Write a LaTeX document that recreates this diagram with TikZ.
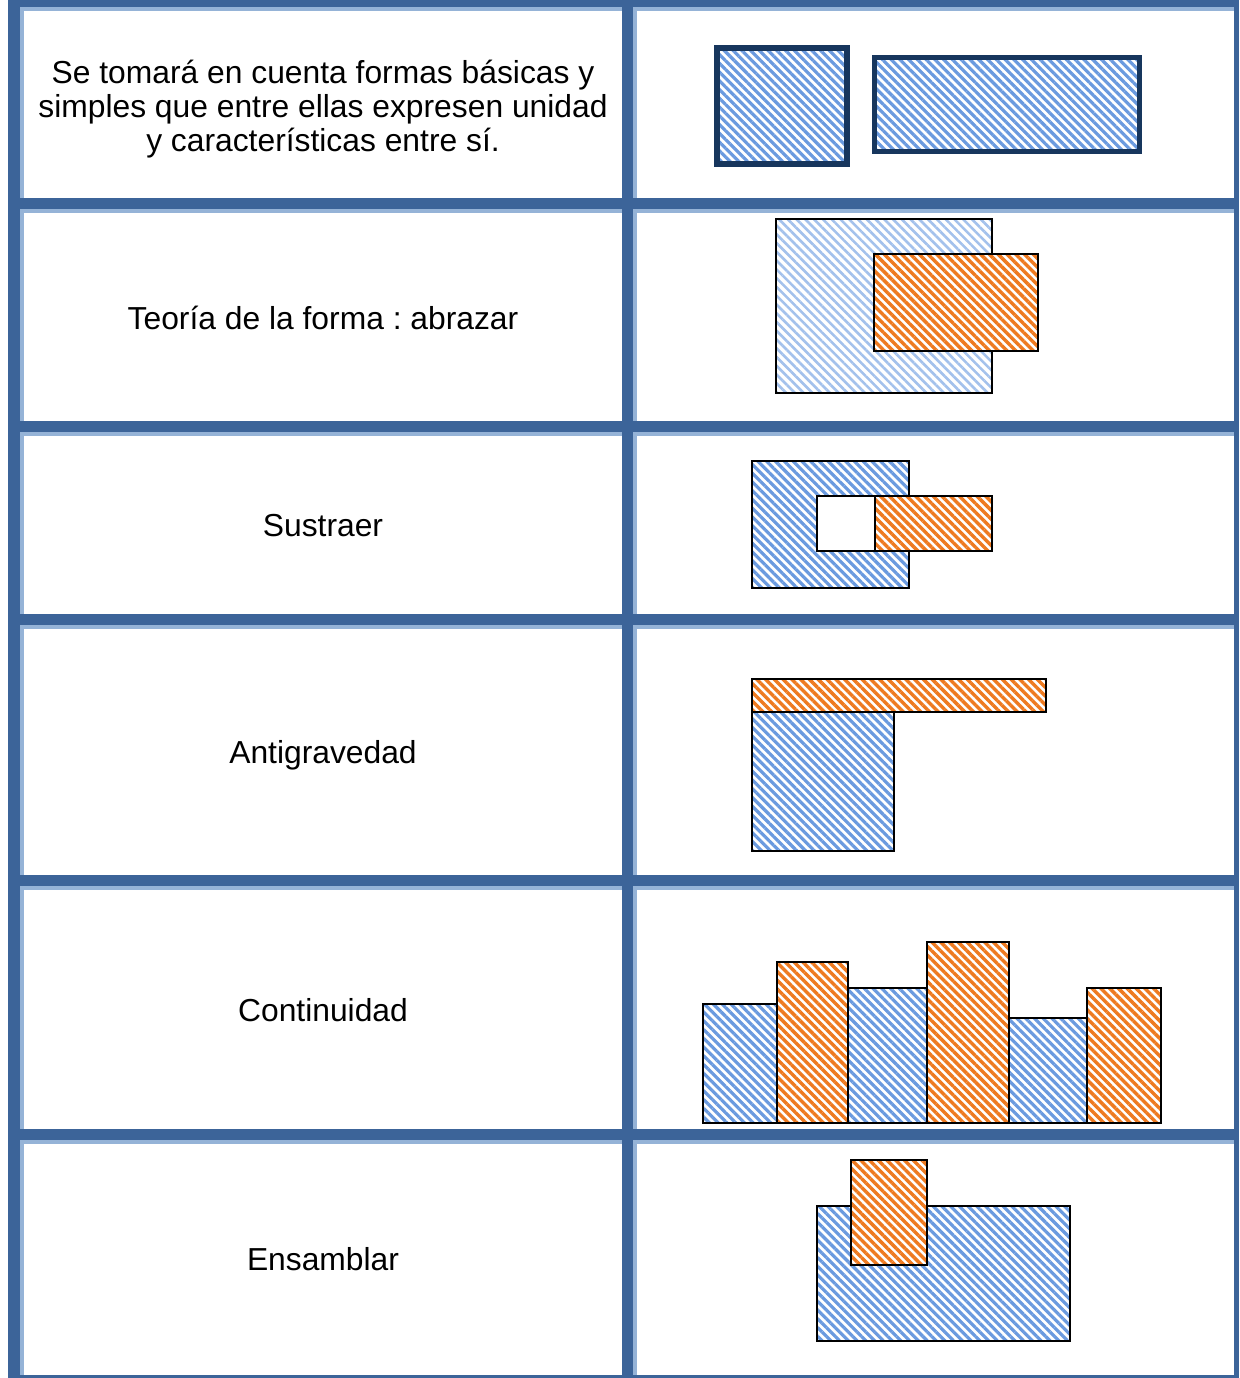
\documentclass[tikz,border=0pt]{standalone}
\usepackage{fontspec}
\setmainfont{Liberation Sans}
\usetikzlibrary{patterns.meta}
\definecolor{tdark}{HTML}{3C6499}
\definecolor{tlight}{HTML}{95B3D7}
\definecolor{navy}{HTML}{17365D}
\definecolor{hblue}{HTML}{6A9ADF}
\definecolor{hbluelight}{HTML}{A3C1EC}
\definecolor{horange}{HTML}{EE7A20}
\tikzset{
  lbl/.style={align=center, font=\frenchspacing\fontsize{31.8}{34}\selectfont, text=black, inner sep=0pt, anchor=base},
  bluehatch/.style={preaction={fill=white}, pattern={Lines[angle=-45,distance=6.2pt,line width=3.2pt]}, pattern color=hblue},
  palehatch/.style={preaction={fill=white}, pattern={Lines[angle=-45,distance=6.2pt,line width=2.6pt]}, pattern color=hbluelight},
  orangehatch/.style={preaction={fill=white}, pattern={Lines[angle=-45,distance=6.2pt,line width=3.4pt]}, pattern color=horange},
  thinbox/.style={draw=black, line width=2pt},
  heavybox/.style={draw=navy, line join=miter},
}
\begin{document}
\begin{tikzpicture}[x=1pt,y=-1pt]
\useasboundingbox (0,0) rectangle (1239,1378);
\fill[white] (0,0) rectangle (1239,1378);
% light inner strips
\fill[tlight] (20,7) rectangle (24,1375);
\fill[tlight] (633,7) rectangle (637,1375);
\foreach \ya in {7,209,432,625,886,1140}{
  \fill[tlight] (20,\ya) rectangle (1234,\ya+4);
}
% dark strips
\fill[tdark] (8,0) rectangle (1239,7);
\fill[tdark] (8,1375) rectangle (1239,1378);
\foreach \ya/\yb in {198/209,421/432,614/625,875/886,1129/1140}{
  \fill[tdark] (8,\ya) rectangle (1239,\yb);
}
\fill[tdark] (8,0) rectangle (20,1378);
\fill[tdark] (622,0) rectangle (633,1378);
\fill[tdark] (1234,0) rectangle (1239,1378);

% texts
\node[lbl] (t1) at (323,151.5) {Se tomará en cuenta formas básicas y\\simples que entre ellas expresen unidad\\y características entre sí.};
\node[lbl] (t2) at (323,329) {Teoría de la forma : abrazar};
\node[lbl] (t3) at (323,536) {Sustraer};
\node[lbl] (t4) at (323,763) {Antigravedad};
\node[lbl] (t5) at (323,1021) {Continuidad};
\node[lbl] (t6) at (323,1270) {Ensamblar};

% row 1
\path[bluehatch] (717,48) rectangle (847,164);
\draw[heavybox, line width=6pt] (717,48) rectangle (847,164);
\path[bluehatch] (874.5,57.5) rectangle (1139.5,151.5);
\draw[heavybox, line width=5pt] (874.5,57.5) rectangle (1139.5,151.5);

% row 2
\path[palehatch] (776,219) rectangle (992,393);
\draw[thinbox] (776,219) rectangle (992,393);
\path[orangehatch] (874,254) rectangle (1038,351);
\draw[thinbox] (874,254) rectangle (1038,351);

% row 3
\path[bluehatch] (752,461) rectangle (909,588);
\draw[thinbox] (752,461) rectangle (909,588);
\fill[white] (817,496) rectangle (875,551);
\draw[thinbox] (817,496) rectangle (875,551);
\path[orangehatch] (875,496) rectangle (992,551);
\draw[thinbox] (875,496) rectangle (992,551);

% row 4
\path[bluehatch] (752,712) rectangle (894,851);
\draw[thinbox] (752,712) rectangle (894,851);
\path[orangehatch] (752,679) rectangle (1046,712);
\draw[thinbox] (752,679) rectangle (1046,712);

% row 5
\path[bluehatch] (703,1004) rectangle (777,1123);
\draw[thinbox] (703,1004) rectangle (777,1123);
\path[bluehatch] (848,988) rectangle (927,1123);
\draw[thinbox] (848,988) rectangle (927,1123);
\path[bluehatch] (1009,1018) rectangle (1087,1123);
\draw[thinbox] (1009,1018) rectangle (1087,1123);
\path[orangehatch] (777,962) rectangle (848,1123);
\draw[thinbox] (777,962) rectangle (848,1123);
\path[orangehatch] (927,942) rectangle (1009,1123);
\draw[thinbox] (927,942) rectangle (1009,1123);
\path[orangehatch] (1087,988) rectangle (1161,1123);
\draw[thinbox] (1087,988) rectangle (1161,1123);

% row 6
\path[bluehatch] (817,1206) rectangle (1070,1341);
\draw[thinbox] (817,1206) rectangle (1070,1341);
\path[orangehatch] (851,1160) rectangle (927,1265);
\draw[thinbox] (851,1160) rectangle (927,1265);
\end{tikzpicture}
\end{document}
